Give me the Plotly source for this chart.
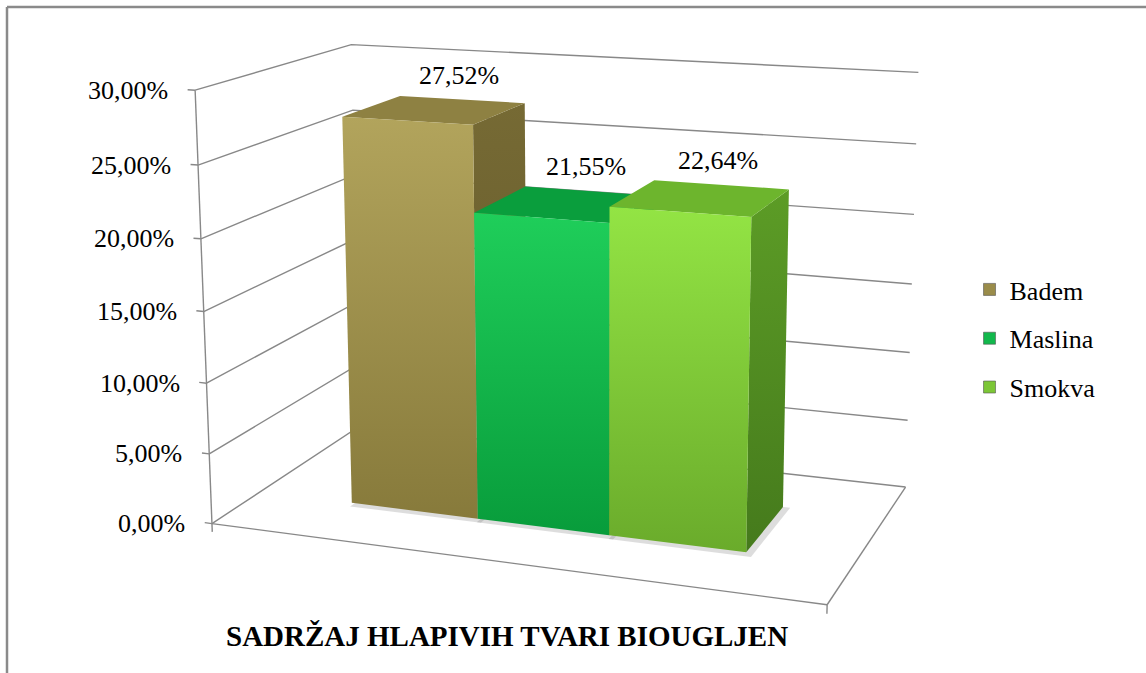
import numpy as np
import plotly.graph_objects as go

# ---------------- data ----------------
categories = ["Badem", "Maslina", "Smokva"]
values = [27.52, 21.55, 22.64]                      # %
value_labels = ["27,52%", "21,55%", "22,64%"]
tick_values = [0, 5, 10, 15, 20, 25, 30]
tick_labels = ["0,00%", "5,00%", "10,00%", "15,00%", "20,00%", "25,00%", "30,00%"]
axis_title = "SADRŽAJ HLAPIVIH TVARI BIOUGLJEN"
Z_MAX = 30.0

# ---------------- styles ----------------
FONT = "Liberation Serif, Times New Roman, serif"
GRID = "#888888"
# (bottom colour, top colour)
front_grad = {"Badem": ("#877a3b", "#b2a45c"),
              "Maslina": ("#089c3b", "#1fce5a"),
              "Smokva": ("#6aab2b", "#93e444")}
top_col = {"Badem": "#8e8142", "Maslina": "#0a9e3d", "Smokva": "#6db52d"}
side_grad = {"Badem": ("#62572a", "#766a34"),
             "Maslina": ("#066324", "#087a2c"),
             "Smokva": ("#457a1c", "#5c9c26")}
legend_col = {"Badem": "#9a8c4a", "Maslina": "#12b84c", "Smokva": "#7cc636"}

# ---------------- 3-D camera (Excel-like perspective box) ----------------
# box corners in normalised (category, depth, value) space and where they sit on the page
calib_world = np.array([[0, 0, 0], [0, 0, 0.5], [0, 0, 1], [0, 1, 1],
                        [1, 1, 1], [1, 1, 0.5], [1, 1, 0], [1, 0, 0]], float)
calib_px = np.array([[212, 523], [203, 312], [195, 91], [352, 44],
                     [918, 72], [912, 284], [905, 488], [828, 604]], float)


def fit_camera(wp, pp):
    A, b = [], []
    for (X, Y, Z), (u, v) in zip(wp, pp):
        A.append([X, Y, Z, 1, 0, 0, 0, 0, -u * X, -u * Y, -u * Z]); b.append(u)
        A.append([0, 0, 0, 0, X, Y, Z, 1, -v * X, -v * Y, -v * Z]); b.append(v)
    p = np.linalg.lstsq(np.array(A), np.array(b), rcond=None)[0]
    return np.append(p, 1.0).reshape(3, 4)


P = fit_camera(calib_world, calib_px)


def proj(X, Y, Z):
    h = P @ np.array([X, Y, Z, 1.0])
    return h[0] / h[2], h[1] / h[2]


def zn(v):
    return v / Z_MAX


# bar layout: gap width 150 %, gap depth 150 %
N = len(categories)
GAP = 0.75
SLOT = N + 2 * GAP
DEPTH0, DEPTH1 = 0.3, 0.7

fig = go.Figure()


def add_poly(pts3, fill=None, grad=None):
    xy = [proj(*p) for p in pts3]
    xs = [q[0] for q in xy] + [xy[0][0]]
    ys = [q[1] for q in xy] + [xy[0][1]]
    kw = dict(x=xs, y=ys, mode="lines", fill="toself", line=dict(width=0),
              hoverinfo="skip", showlegend=False)
    if grad is not None:
        kw["fillgradient"] = dict(type="vertical",
                                  colorscale=[[0, grad[0]], [1, grad[1]]])
        kw["fillcolor"] = grad[1]
    else:
        kw["fillcolor"] = fill
    fig.add_trace(go.Scatter(**kw))


# ---- walls: gridlines on left and back wall ----
gx, gy = [], []
for t in tick_values:
    for p in [(0, 0, zn(t)), (0, 1, zn(t)), (1, 1, zn(t))]:
        u, v = proj(*p); gx.append(u); gy.append(v)
    gx.append(None); gy.append(None)
fig.add_trace(go.Scatter(x=gx, y=gy, mode="lines", line=dict(color=GRID, width=1.4),
                         hoverinfo="skip", showlegend=False))

# ---- axis lines + tick marks ----
ax_x, ax_y = [], []
for seg in [[(0, 0, 0), (0, 0, 1)], [(0, 0, 0), (1, 0, 0)], [(1, 0, 0), (1, 1, 0)]]:
    for p in seg:
        u, v = proj(*p); ax_x.append(u); ax_y.append(v)
    ax_x.append(None); ax_y.append(None)
for t in tick_values:
    for p in [(-0.013, 0, zn(t)), (0, 0, zn(t))]:
        u, v = proj(*p); ax_x.append(u); ax_y.append(v)
    ax_x.append(None); ax_y.append(None)
for X in [0, 1]:
    for p in [(X, 0, 0), (X, 0, -0.02)]:
        u, v = proj(*p); ax_x.append(u); ax_y.append(v)
    ax_x.append(None); ax_y.append(None)
fig.add_trace(go.Scatter(x=ax_x, y=ax_y, mode="lines", line=dict(color=GRID, width=1.4),
                         hoverinfo="skip", showlegend=False))

# ---- bars ----
annotations = []
for i, (cat, val, lab) in enumerate(zip(categories, values, value_labels)):
    x0 = (GAP + i) / SLOT
    x1 = (GAP + i + 1) / SLOT
    z1 = zn(val)
    # soft shadow on the floor
    add_poly([(x0 + 0.005, DEPTH0 - 0.03, 0), (x1 + 0.012, DEPTH0 - 0.03, 0),
              (x1 + 0.012, DEPTH1, 0), (x0 + 0.005, DEPTH1, 0)], fill="rgba(120,120,120,0.25)")
    # right side
    add_poly([(x1, DEPTH0, 0), (x1, DEPTH1, 0), (x1, DEPTH1, z1), (x1, DEPTH0, z1)],
             grad=side_grad[cat])
    # top
    add_poly([(x0, DEPTH0, z1), (x1, DEPTH0, z1), (x1, DEPTH1, z1), (x0, DEPTH1, z1)],
             fill=top_col[cat])
    # front
    add_poly([(x0, DEPTH0, 0), (x1, DEPTH0, 0), (x1, DEPTH0, z1), (x0, DEPTH0, z1)],
             grad=front_grad[cat])
    lx, ly = proj((x0 + x1) / 2, DEPTH1, z1)
    annotations.append(dict(x=lx - 3, y=ly - 8, text=lab, showarrow=False,
                            xanchor="center", yanchor="bottom",
                            font=dict(family=FONT, size=26, color="black")))

# ---- legend entries ----
for cat in categories:
    fig.add_trace(go.Scatter(x=[None], y=[None], mode="markers", name=cat,
                             legendgroup=cat,
                             marker=dict(symbol="square", size=12, color=legend_col[cat],
                                         line=dict(color="#555555", width=0.6))))

# ---- value-axis tick labels ----
for t, lab in zip(tick_values, tick_labels):
    u, v = proj(0, 0, zn(t))
    annotations.append(dict(x=u - 25, y=v, text=lab, showarrow=False,
                            xanchor="right", yanchor="middle",
                            font=dict(family=FONT, size=26, color="black")))

# ---- category axis title ----
annotations.append(dict(x=507, y=636, text="<b>" + axis_title + "</b>", showarrow=False,
                        xanchor="center", yanchor="middle",
                        font=dict(family=FONT, size=29, color="black")))

fig.update_layout(
    width=1146, height=673,
    margin=dict(l=0, r=0, t=0, b=0),
    paper_bgcolor="white", plot_bgcolor="white",
    xaxis=dict(range=[0, 1146], visible=False, domain=[0, 1], fixedrange=True),
    yaxis=dict(range=[673, 0], visible=False, domain=[0, 1], fixedrange=True),
    annotations=annotations,
    legend=dict(x=0.846, y=0.497, xanchor="left", yanchor="middle",
                font=dict(family=FONT, size=26, color="black"),
                tracegroupgap=12, itemwidth=30, bgcolor="rgba(0,0,0,0)"),
    shapes=[dict(type="line", xref="paper", yref="paper", x0=7 / 1146, x1=7 / 1146,
                 y0=1 - 7 / 673, y1=-0.05, line=dict(color="#8a8a8a", width=2.5)),
            dict(type="line", xref="paper", yref="paper", x0=7 / 1146, x1=1.05,
                 y0=1 - 7 / 673, y1=1 - 7 / 673, line=dict(color="#8a8a8a", width=2.5))],
    showlegend=True,
)

fig.write_html("out.html", config={"displayModeBar": False},
               post_script="document.body.style.margin='0';")
